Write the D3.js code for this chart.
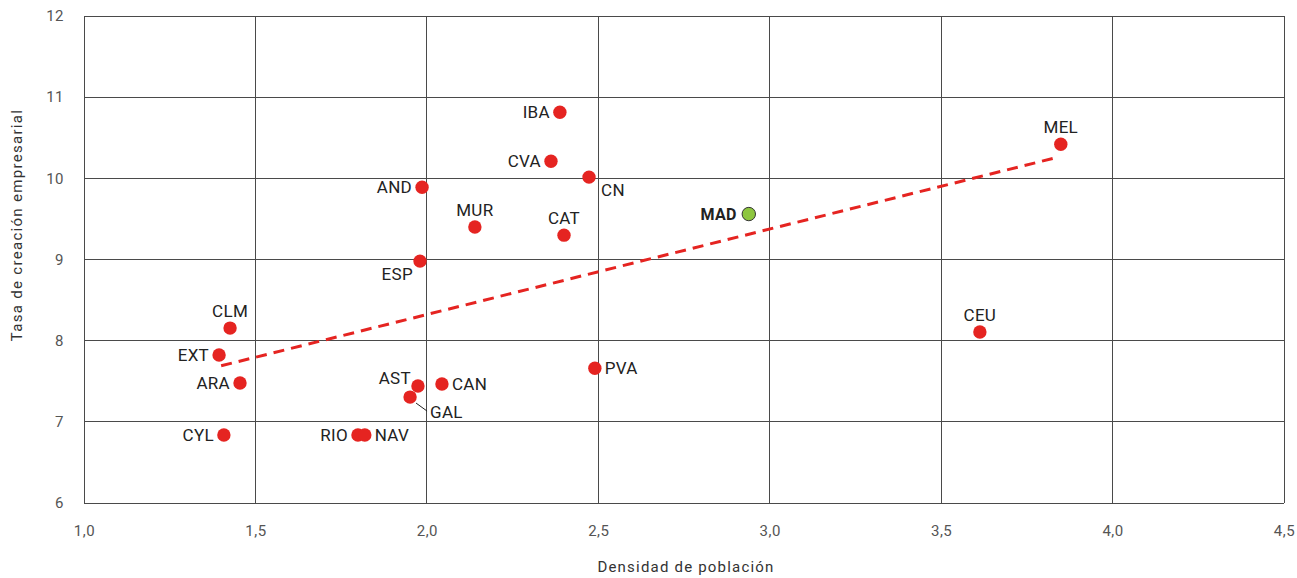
<!DOCTYPE html>
<html><head><meta charset="utf-8">
<script src="https://cdn.jsdelivr.net/npm/d3@7"></script>
<style>
body{margin:0;background:#fff;}
text{font-family:Roboto,"Liberation Sans",sans-serif;}
</style></head>
<body><svg id="c" width="1297" height="578"></svg>
<script>
const regions = ["IBA","CVA","CN","AND","MUR","CAT","ESP","MAD","MEL","CEU","CLM","EXT","ARA","CYL","AST","GAL","CAN","PVA","RIO","NAV"];
const density = [2.388,2.362,2.473,1.986,2.140,2.400,1.980,2.939,3.849,3.613,1.426,1.394,1.455,1.408,1.974,1.951,2.044,2.490,1.799,1.819];
const creation = [10.815,10.21,10.015,9.89,9.40,9.30,8.98,9.56,10.42,8.106,8.155,7.823,7.478,6.837,7.441,7.305,7.466,7.66,6.837,6.837];
const trendX = [1.40, 3.84];
const trendY = [7.69, 10.26];
const xTicks = [1.0,1.5,2.0,2.5,3.0,3.5,4.0,4.5];
const yTicks = [6,7,8,9,10,11,12];
const highlight = "MAD";
const labelSide = {IBA:"left",CVA:"left",CN:"belowright",AND:"left",MUR:"above",CAT:"above",ESP:"belowleft",MAD:"left",MEL:"above",CEU:"above",CLM:"above",EXT:"left",ARA:"left",CYL:"left",AST:"aboveleft",GAL:"leader",CAN:"right",PVA:"right",RIO:"left",NAV:"right"};

const svg = d3.select("#c");
const x = d3.scaleLinear().domain([1,4.5]).range([84,1284]);
const y = d3.scaleLinear().domain([6,12]).range([503,16]);
const fmt = d => d.toFixed(1).replace(".", ",");

// grid
const g = svg.append("g");
g.selectAll("line.v").data(xTicks).join("line")
 .attr("x1",d=>x(d)).attr("x2",d=>x(d)).attr("y1",y(6)).attr("y2",y(12))
 .attr("stroke","#4a4a4a").attr("stroke-width",1).attr("shape-rendering","crispEdges");
g.selectAll("line.h").data(yTicks).join("line")
 .attr("y1",d=>y(d)).attr("y2",d=>y(d)).attr("x1",x(1)).attr("x2",x(4.5))
 .attr("stroke","#4a4a4a").attr("stroke-width",1).attr("shape-rendering","crispEdges");

// axes
const xa = svg.append("g").attr("transform",`translate(0,${y(6)})`)
 .call(d3.axisBottom(x).tickValues(xTicks).tickFormat(fmt).tickSize(0).tickPadding(22));
xa.select(".domain").remove();
xa.selectAll("text").attr("font-size",15).attr("letter-spacing",0.5).attr("fill","#555").attr("font-family","Roboto");
const ya = svg.append("g").attr("transform",`translate(${x(1)},0)`)
 .call(d3.axisLeft(y).tickValues(yTicks).tickFormat(d3.format("d")).tickSize(0).tickPadding(20));
ya.select(".domain").remove();
ya.selectAll("text").attr("font-size",15).attr("letter-spacing",0.5).attr("fill","#555").attr("font-family","Roboto");

svg.append("text").attr("x",686).attr("y",572).attr("text-anchor","middle")
 .attr("font-family","DejaVu Sans").attr("letter-spacing",1.2)
 .attr("font-size",15).attr("fill","#333").text("Densidad de población");
svg.append("text").attr("transform","translate(22,225) rotate(-90)").attr("text-anchor","middle")
 .attr("font-family","DejaVu Sans").attr("letter-spacing",1.3)
 .attr("font-size",15).attr("fill","#333").text("Tasa de creación empresarial");

// trend
svg.append("line").attr("x1",x(trendX[0])).attr("y1",y(trendY[0])).attr("x2",x(trendX[1])).attr("y2",y(trendY[1]))
 .attr("stroke","#e52421").attr("stroke-width",3).attr("stroke-dasharray","11,7");

const data = regions.map((r,i)=>({r,dx:density[i],cy:creation[i]}));

// leader line for GAL
data.filter(d=>labelSide[d.r]==="leader").forEach(d=>{
  svg.append("line").attr("x1",x(d.dx)+6).attr("y1",y(d.cy)+6).attr("x2",x(d.dx)+17).attr("y2",y(d.cy)+14)
   .attr("stroke","#222").attr("stroke-width",1);
});

svg.selectAll("circle.p").data(data).join("circle")
 .attr("cx",d=>x(d.dx)).attr("cy",d=>y(d.cy)).attr("r",6.7)
 .attr("fill",d=>d.r===highlight?"#8dc63f":"#e52421")
 .attr("stroke",d=>d.r===highlight?"#333":"none").attr("stroke-width",1);

svg.selectAll("text.lab").data(data).join("text")
 .attr("font-size",d=>d.r===highlight?16:17).attr("letter-spacing",0.3).attr("fill","#222")
 .attr("font-weight",d=>d.r===highlight?"bold":"normal")
 .each(function(d){
   const px=x(d.dx), py=y(d.cy), s=labelSide[d.r], t=d3.select(this);
   let tx=px, ty=py+6, a="middle";
   if(s==="left"){tx=px-(d.r===highlight?12:10); a="end";}
   else if(s==="right"){tx=px+10; a="start";}
   else if(s==="above"){ty=py-11;}
   else if(s==="belowright"){tx=px+12; ty=py+19; a="start";}
   else if(s==="belowleft"){tx=px-7; ty=py+19; a="end";}
   else if(s==="aboveleft"){tx=px-7; ty=py-2; a="end";}
   else if(s==="leader"){tx=px+20; ty=py+20.5; a="start";}
   t.attr("x",tx).attr("y",ty).attr("text-anchor",a).text(d.r);
 });
</script></body></html>
